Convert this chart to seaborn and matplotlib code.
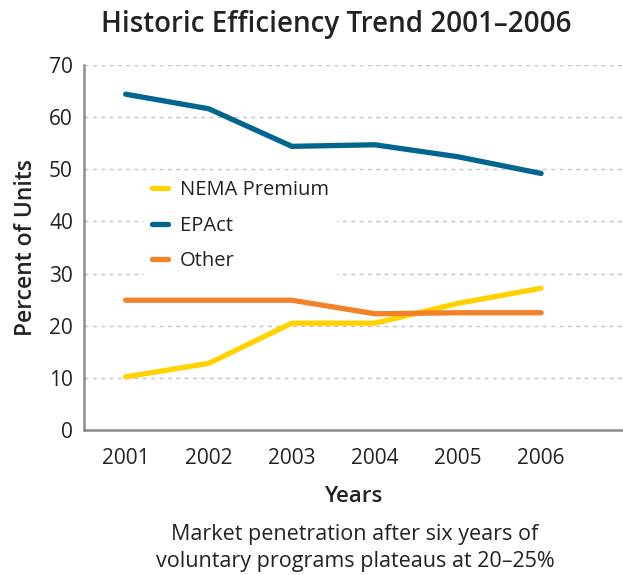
import numpy as np
import pandas as pd
import seaborn as sns
import matplotlib.pyplot as plt

years = [2001, 2002, 2003, 2004, 2005, 2006]
nema = [10.2, 12.8, 20.5, 20.5, 24.3, 27.2]
epact = [64.4, 61.6, 54.4, 54.7, 52.4, 49.2]
other = [24.9, 24.9, 24.9, 22.3, 22.5, 22.5]
series_names = ["NEMA Premium", "EPAct", "Other"]
colors = ["#FFD200", "#00668F", "#F28128"]

df = pd.DataFrame({
    "Years": years * 3,
    "Percent": nema + epact + other,
    "Series": [series_names[0]] * 6 + [series_names[1]] * 6 + [series_names[2]] * 6,
})

sns.set_style("white")
plt.rcParams["font.family"] = ["Open Sans", "DejaVu Sans"]
txt = "#222222"
grey = "#8a8d91"

fig = plt.figure(figsize=(6.23, 5.75), dpi=100)
ax = fig.add_axes([0.135, 0.252, 0.863, 0.635])

sns.lineplot(data=df, x="Years", y="Percent", hue="Series", palette=colors,
             linewidth=3.8, ax=ax, legend=True)

ax.set_xlim(2000.5, 2006.97)
ax.set_ylim(0, 70)
ax.set_yticks(range(0, 71, 10))
ax.set_xticks(years)
ax.set_xticks(list(np.arange(2000.5, 2006, 1.0)) + [2006.96], minor=True)
ax.tick_params(axis="x", which="major", length=0, labelsize=15, colors=txt, pad=13)
ax.tick_params(axis="x", which="minor", length=9, width=1.8, color=grey, direction="out")
ax.tick_params(axis="y", length=0, labelsize=15, colors=txt, pad=8)
ax.yaxis.grid(True, linestyle=(0, (3, 3)), color="#c4c6c8", linewidth=1)
ax.set_axisbelow(True)

for s in ["top", "right"]:
    ax.spines[s].set_visible(False)
ax.spines["left"].set_color(grey)
ax.spines["bottom"].set_color(grey)
ax.spines["left"].set_linewidth(1.8)
ax.spines["bottom"].set_linewidth(1.8)

ax.set_ylabel("Percent of Units", fontsize=16.5, fontweight="semibold", color=txt, labelpad=8)
ax.set_xlabel("Years", fontsize=16, fontweight="semibold", color=txt, labelpad=12)

leg = ax.legend(loc="upper left", bbox_to_anchor=(0.092, 0.735), frameon=True,
                facecolor="white", edgecolor="none", framealpha=1, fontsize=14.5,
                handlelength=0.8, handletextpad=0.6, labelspacing=0.78, borderpad=0.4)
for t in leg.get_texts():
    t.set_color(txt)

fig.text(0.54, 0.958, "Historic Efficiency Trend 2001–2006", ha="center", va="center",
         fontsize=20, fontweight="semibold", color=txt)
fig.text(0.57, 0.047, "Market penetration after six years of\nvoluntary programs plateaus at 20–25%",
         ha="center", va="center", fontsize=15.5, color=txt, linespacing=1.4)

fig.savefig("out.png", dpi=100)
